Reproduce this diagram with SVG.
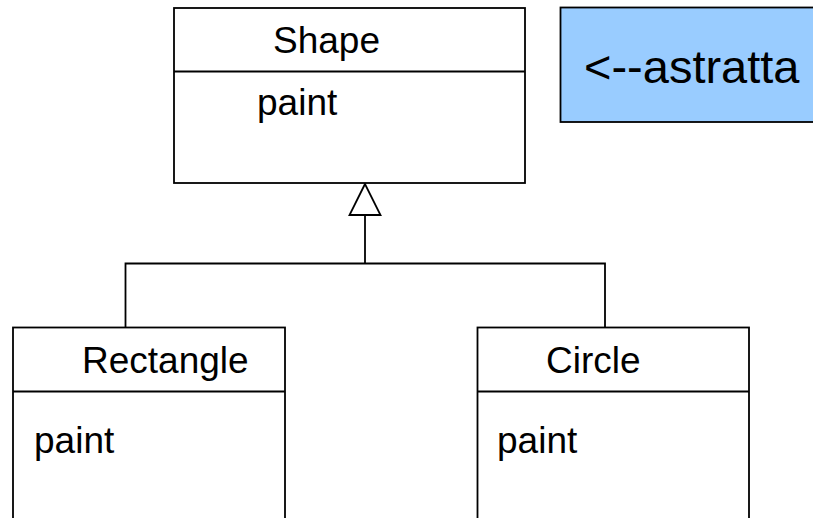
<svg xmlns="http://www.w3.org/2000/svg" width="813" height="518" viewBox="0 0 813 518">
<style>
.box{fill:#ffffff;stroke:#000000;stroke-width:1.8}
.ln{fill:none;stroke:#000000;stroke-width:1.8}
.t{font-family:"Liberation Sans",Arial,sans-serif;font-size:37px;fill:#000000}
</style>
<rect width="813" height="518" fill="#ffffff"/>
<g id="connectors">
<polyline class="ln" points="125.5,328 125.5,263.5 605,263.5 605,328"/>
<line class="ln" x1="365" y1="263.5" x2="365" y2="215"/>
<polygon class="ln" points="365,184 349.5,215 380.5,215" fill="#ffffff"/>
</g>
<g id="shape">
<rect class="box" x="174" y="8" width="351" height="175"/>
<line class="ln" x1="174" y1="71.5" x2="525" y2="71.5"/>
<text class="t" x="273" y="53">Shape</text>
<text class="t" x="257" y="115">paint</text>
</g>
<g id="note">
<rect x="560.5" y="7.5" width="260" height="114.5" fill="#99ccff" stroke="#000000" stroke-width="1.8"/>
<text class="t" x="584" y="83" style="font-size:47px">&lt;--astratta</text>
</g>
<g id="rectangle">
<rect class="box" x="13" y="327.5" width="272" height="200"/>
<line class="ln" x1="13" y1="391.5" x2="285" y2="391.5"/>
<text class="t" x="82" y="373">Rectangle</text>
<text class="t" x="34" y="453">paint</text>
</g>
<g id="circle">
<rect class="box" x="477.5" y="327.5" width="271.5" height="200"/>
<line class="ln" x1="477.5" y1="391.5" x2="749" y2="391.5"/>
<text class="t" x="546" y="373">Circle</text>
<text class="t" x="497" y="453">paint</text>
</g>
</svg>
